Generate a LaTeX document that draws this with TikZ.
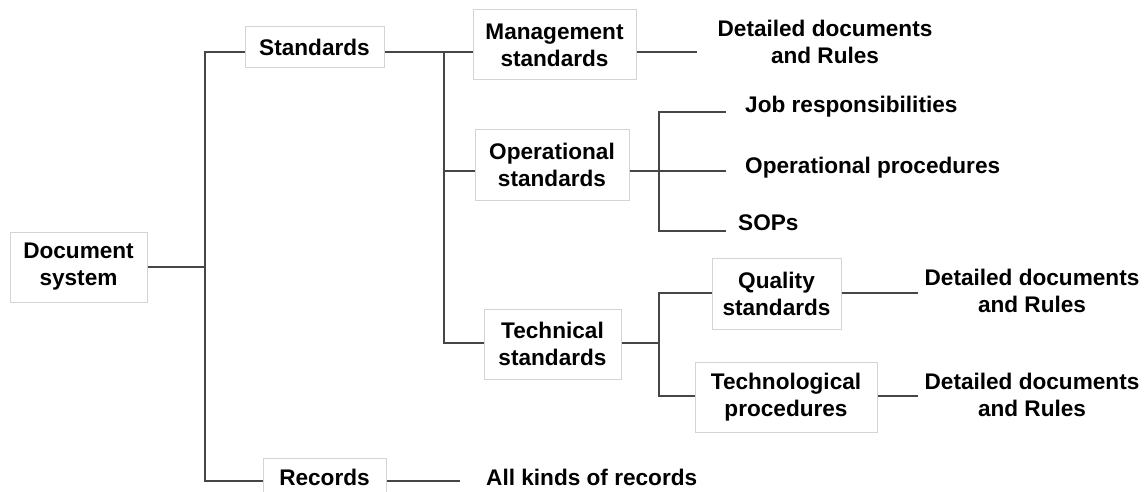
\documentclass[tikz,border=0pt]{standalone}
\usepackage{fontspec}
\setmainfont{Liberation Sans}
\definecolor{linecol}{RGB}{70,70,70}
\definecolor{boxline}{RGB}{212,212,212}
\begin{document}
\begin{tikzpicture}[x=1pt,y=-1pt,
  lbl/.style={font=\bfseries\fontsize{22.6}{27}\selectfont, align=center, inner sep=0pt},
  box/.style={lbl, draw=boxline, line width=1pt, fill=white},
  conn/.style={draw=linecol, line width=1.3pt},
]
\clip (0,0) rectangle (1146,492);

% boxes
\node[box, minimum width=137pt, minimum height=70pt] (doc)    at (78.5,267)  {Document\\system};
\node[box, minimum width=139pt, minimum height=41pt] (std)    at (314.5,47.5) {Standards};
\node[box, minimum width=123pt, minimum height=38pt] (rec)    at (324.5,477) {Records};
\node[box, minimum width=163pt, minimum height=70pt] (mgmt)   at (554.5,45)  {Management\\standards};
\node[box, minimum width=154pt, minimum height=70pt] (op)     at (552,165)   {Operational\\standards};
\node[box, minimum width=137pt, minimum height=70pt] (tech)   at (552.5,344) {Technical\\standards};
\node[box, minimum width=129pt, minimum height=71pt] (qual)   at (776.5,293.5) {Quality\\standards};
\node[box, minimum width=182pt, minimum height=70pt] (techno) at (786,397)   {Technological\\procedures};

% plain labels
\node[lbl] (det1) at (825,42)  {Detailed documents\\and Rules};
\node[lbl] (det2) at (1032,291) {Detailed documents\\and Rules};
\node[lbl] (det3) at (1032,395) {Detailed documents\\and Rules};
\node[lbl, anchor=west] (job)    at (745,107) {Job responsibilities};
\node[lbl, anchor=west] (opproc) at (745,168) {Operational procedures};
\node[lbl, anchor=west] (sops)   at (738,223) {SOPs};
\node[lbl, anchor=west] (allrec) at (486,477) {All kinds of records};

% junctions and free line ends
\coordinate (t1) at (205,52);
\coordinate (t2) at (205,481);
\coordinate (s1) at (444,52);
\coordinate (s2) at (444,343);
\coordinate (s3) at (444,171);
\coordinate (o1) at (659,112);
\coordinate (o2) at (659,171);
\coordinate (o3) at (659,231);
\coordinate (e1) at (726,112);
\coordinate (e2) at (726,171);
\coordinate (e3) at (726,231);
\coordinate (q0) at (659,343);
\coordinate (q1) at (659,293);
\coordinate (q2) at (659,396);
\coordinate (m1) at (697,52);
\coordinate (qe) at (918,293);
\coordinate (te) at (918,396);
\coordinate (re) at (460,481);

% connectors
\draw[conn] (doc.east) -- (doc.east -| t1);
\draw[conn] (t1 -| std.west) -- (t1) -- (t2) -- (t2 -| rec.west);
\draw[conn] (rec.east |- t2) -- (re);

\draw[conn] (std.east |- s1) -- (s1) -- (s1 -| mgmt.west);
\draw[conn] (s1) -- (s2) -- (s2 -| tech.west);
\draw[conn] (s3) -- (s3 -| op.west);
\draw[conn] (mgmt.east |- s1) -- (m1);

\draw[conn] (op.east |- o2) -- (o2) -- (e2);
\draw[conn] (e1) -- (o1) -- (o3) -- (e3);

\draw[conn] (tech.east |- q0) -- (q0);
\draw[conn] (qual.west |- q1) -- (q1) -- (q2) -- (techno.west |- q2);
\draw[conn] (qual.east |- q1) -- (qe);
\draw[conn] (techno.east |- q2) -- (te);
\end{tikzpicture}
\end{document}
